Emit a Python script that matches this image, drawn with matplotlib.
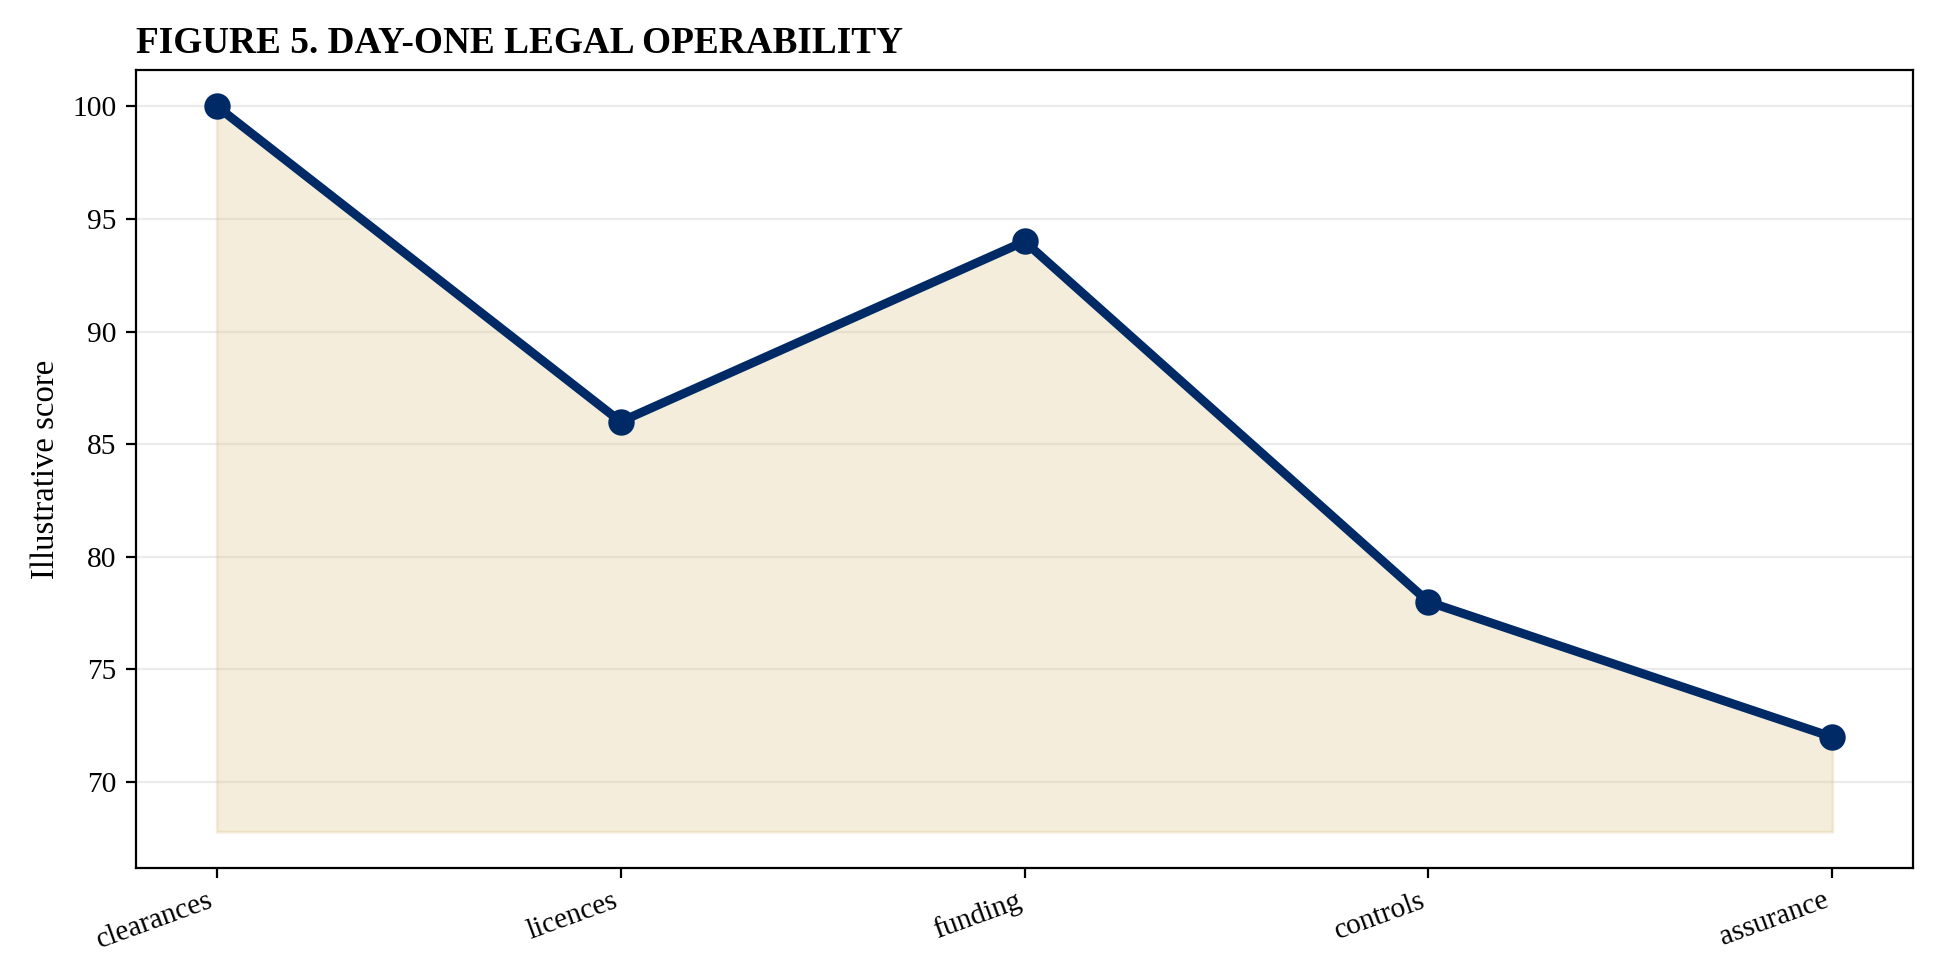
import matplotlib
matplotlib.use("Agg")
import matplotlib.pyplot as plt

# data
stages = ["clearances", "licences", "funding", "controls", "assurance"]
scores = [100, 86, 94, 78, 72]
fill_floor = 67.8

plt.rcParams['font.family'] = ['Liberation Serif', 'DejaVu Serif']

fig, ax = plt.subplots(figsize=(9.685, 4.9), dpi=200)
fig.subplots_adjust(left=0.0702, right=0.9877, top=0.9286, bottom=0.1143)

x = list(range(len(stages)))
ax.fill_between(x, scores, fill_floor, color='#dcc48c', alpha=0.3, linewidth=1)
ax.plot(x, scores, color='#002a66', linewidth=3.2, marker='o', markersize=8.5)

ax.grid(axis='y', color='#ebebeb', linewidth=0.8)
ax.set_axisbelow(True)

ax.set_xticks(x)
ax.set_xticklabels(stages, rotation=20, ha='right', fontsize=10.6)
ax.tick_params(axis='y', labelsize=10.6)
ax.set_ylabel("Illustrative score", fontsize=11.8)
ax.set_title("FIGURE 5. DAY-ONE LEGAL OPERABILITY", loc='left',
             fontweight='bold', fontsize=13.4)

fig.savefig("out.png", dpi=200)
